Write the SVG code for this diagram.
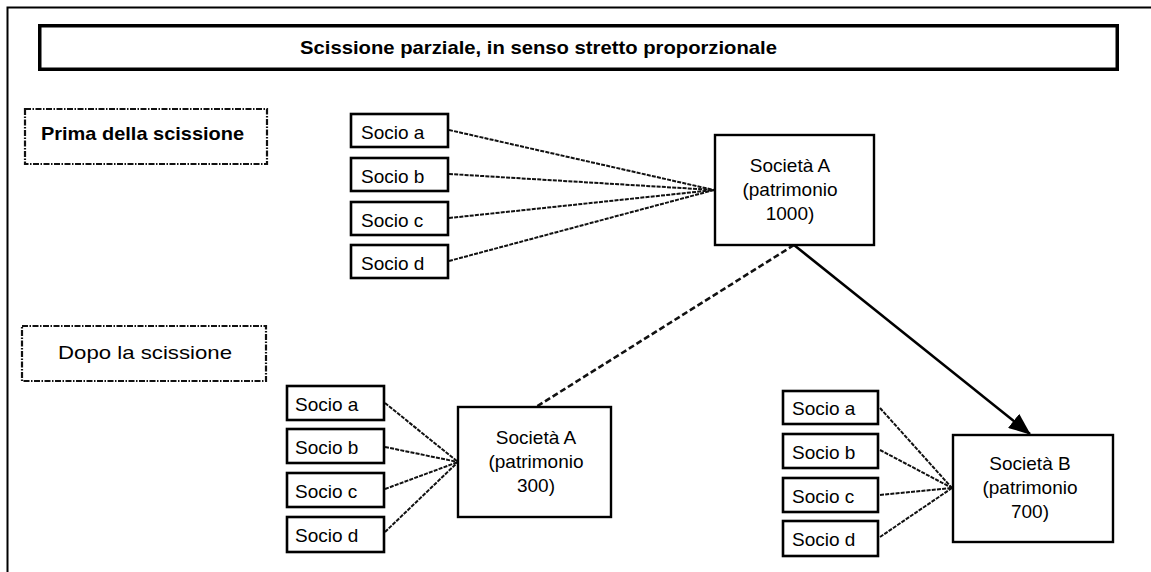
<svg xmlns="http://www.w3.org/2000/svg" width="1151" height="572" viewBox="0 0 1151 572">
  <defs>
    <style>
      .frame { fill: none; stroke: #000; stroke-width: 2; }
      .title-box { fill: #fff; stroke: #000; stroke-width: 3.5; }
      .phase-box { fill: #fff; stroke: #111; stroke-width: 2.2; stroke-dasharray: 6 1.5 1.5 1.5; }
      .socio { fill: #fff; stroke: #000; stroke-width: 2.6; }
      .company { fill: #fff; stroke: #000; stroke-width: 2.4; }
      .lbl { font-family: "Liberation Sans", Arial, sans-serif; font-size: 19px; fill: #000; }
      .bold { font-weight: bold; }
      .mid { text-anchor: middle; }
      .share { fill: none; stroke: #111; stroke-width: 2; stroke-dasharray: 4 1.2; }
      .link { fill: none; stroke: #111; stroke-width: 2.6; stroke-dasharray: 6 3; }
      .transfer { fill: none; stroke: #000; stroke-width: 2.6; }
    </style>
    <marker id="arrowhead" viewBox="0 0 22 18" refX="21" refY="9" markerWidth="22" markerHeight="18" markerUnits="userSpaceOnUse" orient="auto">
      <path d="M0,0 L22,9 L0,18 Z" fill="#000"/>
    </marker>
  </defs>

  <rect width="1151" height="572" fill="#fff"/>

  <!-- outer frame (top and left edges) -->
  <path class="frame" d="M7.5,572 V7.5 H1151"/>

  <g id="title">
    <rect class="title-box" x="39.75" y="25.75" width="1077.5" height="43.5"/>
    <text class="lbl bold" x="300" y="54" textLength="477" lengthAdjust="spacingAndGlyphs">Scissione parziale, in senso stretto proporzionale</text>
  </g>

  <g id="phase-before">
    <rect class="phase-box" x="25" y="109" width="242" height="55"/>
    <text class="lbl bold" x="41" y="140" textLength="203" lengthAdjust="spacingAndGlyphs">Prima della scissione</text>
  </g>

  <g id="phase-after">
    <rect class="phase-box" x="22" y="326" width="244" height="55"/>
    <text class="lbl" x="58" y="359" textLength="174" lengthAdjust="spacingAndGlyphs">Dopo la scissione</text>
  </g>

  <!-- connectors -->
  <g id="connectors">
    <line class="share" x1="449" y1="130" x2="714" y2="190"/>
    <line class="share" x1="449" y1="174" x2="714" y2="190"/>
    <line class="share" x1="449" y1="218" x2="714" y2="190"/>
    <line class="share" x1="449" y1="261" x2="714" y2="190"/>

    <line class="share" x1="385" y1="403" x2="458" y2="462"/>
    <line class="share" x1="385" y1="447" x2="458" y2="462"/>
    <line class="share" x1="385" y1="489" x2="458" y2="462"/>
    <line class="share" x1="385" y1="532" x2="458" y2="462"/>

    <line class="share" x1="880" y1="408" x2="952" y2="488"/>
    <line class="share" x1="880" y1="450" x2="952" y2="488"/>
    <line class="share" x1="880" y1="495" x2="952" y2="488"/>
    <line class="share" x1="880" y1="537" x2="952" y2="488"/>

    <line class="link" x1="794" y1="245" x2="536" y2="407"/>
    <line class="transfer" x1="794" y1="245" x2="1030" y2="434" marker-end="url(#arrowhead)"/>
  </g>

  <!-- shareholders before the split -->
  <g id="socio-a-1"><rect class="socio" x="351" y="114" width="97" height="33"/><text class="lbl" x="361" y="139">Socio a</text></g>
  <g id="socio-b-1"><rect class="socio" x="351" y="158" width="97" height="33"/><text class="lbl" x="361" y="183">Socio b</text></g>
  <g id="socio-c-1"><rect class="socio" x="351" y="202" width="97" height="33"/><text class="lbl" x="361" y="227">Socio c</text></g>
  <g id="socio-d-1"><rect class="socio" x="351" y="245" width="97" height="33"/><text class="lbl" x="361" y="270">Socio d</text></g>

  <g id="societa-a-before">
    <rect class="company" x="715" y="135" width="159" height="110"/>
    <text class="lbl mid" x="790" y="172">Società A</text>
    <text class="lbl mid" x="790" y="196">(patrimonio</text>
    <text class="lbl mid" x="790" y="220">1000)</text>
  </g>

  <!-- shareholders of Società A after the split -->
  <g id="socio-a-2"><rect class="socio" x="287" y="386" width="97" height="34"/><text class="lbl" x="295" y="411">Socio a</text></g>
  <g id="socio-b-2"><rect class="socio" x="287" y="429" width="97" height="34"/><text class="lbl" x="295" y="454">Socio b</text></g>
  <g id="socio-c-2"><rect class="socio" x="287" y="473" width="97" height="34"/><text class="lbl" x="295" y="498">Socio c</text></g>
  <g id="socio-d-2"><rect class="socio" x="287" y="517" width="97" height="35"/><text class="lbl" x="295" y="542">Socio d</text></g>

  <g id="societa-a-after">
    <rect class="company" x="458" y="407" width="153" height="110"/>
    <text class="lbl mid" x="536" y="444">Società A</text>
    <text class="lbl mid" x="536" y="468">(patrimonio</text>
    <text class="lbl mid" x="536" y="492">300)</text>
  </g>

  <!-- shareholders of Società B -->
  <g id="socio-a-3"><rect class="socio" x="783" y="391" width="95" height="33"/><text class="lbl" x="792" y="415">Socio a</text></g>
  <g id="socio-b-3"><rect class="socio" x="783" y="434" width="95" height="34"/><text class="lbl" x="792" y="459">Socio b</text></g>
  <g id="socio-c-3"><rect class="socio" x="783" y="478" width="95" height="34"/><text class="lbl" x="792" y="503">Socio c</text></g>
  <g id="socio-d-3"><rect class="socio" x="783" y="521" width="95" height="35"/><text class="lbl" x="792" y="546">Socio d</text></g>

  <g id="societa-b">
    <rect class="company" x="953" y="435" width="160" height="107"/>
    <text class="lbl mid" x="1030" y="470">Società B</text>
    <text class="lbl mid" x="1030" y="494">(patrimonio</text>
    <text class="lbl mid" x="1030" y="518">700)</text>
  </g>
</svg>
